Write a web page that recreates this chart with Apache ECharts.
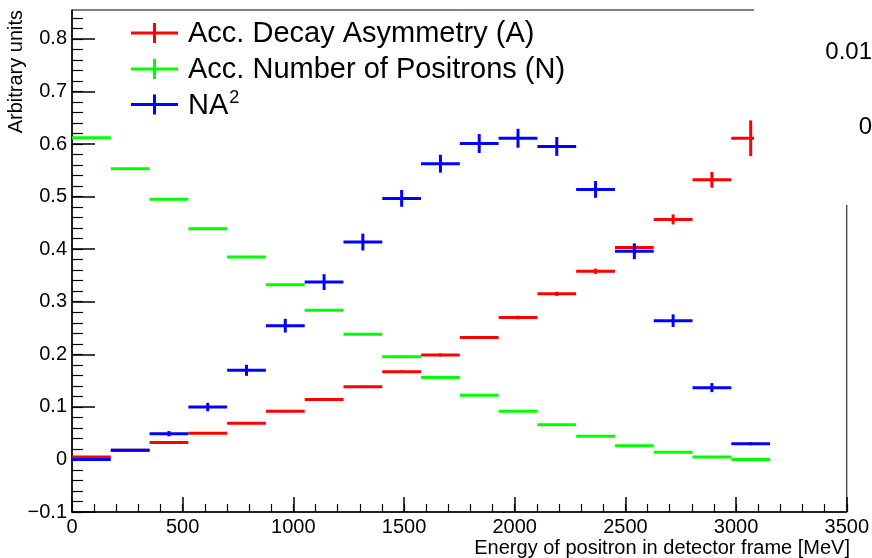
<!DOCTYPE html>
<html>
<head>
<meta charset="utf-8">
<script src="https://cdn.jsdelivr.net/npm/echarts@6/dist/echarts.min.js"></script>
<style>
  html, body { margin: 0; padding: 0; background: #fff; }
  #chart { width: 872px; height: 558px; }
</style>
</head>
<body>
<div id="chart"></div>
<script>
// bin centres (MeV) and bin width
const binCenters = [87.6, 262.8, 438, 613.2, 788.4, 963.6, 1138.8, 1314, 1489.2,
    1664.4, 1839.6, 2014.8, 2190, 2365.2, 2540.4, 2715.6, 2890.8, 3066];
const binWidth = 175.2;

// accumulated decay asymmetry (A)
const asym = [0.0046, 0.0173, 0.032, 0.050, 0.069, 0.0915, 0.114, 0.1385, 0.167,
    0.1986, 0.232, 0.270, 0.315, 0.358, 0.403, 0.4566, 0.532, 0.611];
const asymErr = [0.001, 0.001, 0.001, 0.0012, 0.0015, 0.0015, 0.002, 0.002, 0.0025,
    0.003, 0.003, 0.0035, 0.004, 0.005, 0.006, 0.0095, 0.015, 0.034];

// accumulated number of positrons (N)
const num = [0.612, 0.553, 0.495, 0.439, 0.385, 0.3325, 0.2836, 0.238, 0.1955,
    0.156, 0.122, 0.0915, 0.066, 0.044, 0.026, 0.0135, 0.0046, 0.0];
const numErr = [0.0005, 0.0005, 0.0005, 0.0005, 0.0005, 0.0005, 0.0005, 0.0005, 0.0005,
    0.0005, 0.0005, 0.0005, 0.0005, 0.0005, 0.0005, 0.0005, 0.0005, 0.0005];

// figure of merit N*A^2
const na2 = [0.0, 0.0173, 0.049, 0.0997, 0.1695, 0.2545, 0.3374, 0.4135, 0.4966,
    0.5626, 0.601, 0.611, 0.5955, 0.5137, 0.396, 0.264, 0.1366, 0.030];
const na2Err = [0.001, 0.002, 0.005, 0.008, 0.0105, 0.013, 0.015, 0.016, 0.016,
    0.017, 0.018, 0.018, 0.018, 0.016, 0.015, 0.012, 0.0086, 0.003];

const xMajor = [0, 500, 1000, 1500, 2000, 2500, 3000, 3500];
const yMajor = [-0.1, 0, 0.1, 0.2, 0.3, 0.4, 0.5, 0.6, 0.7, 0.8];
const yMinor = [];
for (let i = 0; i <= 47; i++) yMinor.push(+(-0.1 + i * 0.02).toFixed(2));
const xMinor = [];
for (let i = 0; i <= 35; i++) xMinor.push(i * 100);

const FONT = "'Liberation Sans', Arial, Helvetica, sans-serif";

function toData(vals, errs) {
    return vals.map((v, i) => [binCenters[i], v, errs[i]]);
}

function errSeries(name, color, vals, errs, z) {
    return {
        name: name,
        type: 'custom',
        z: z,
        clip: false,
        data: toData(vals, errs),
        renderItem: function (params, api) {
            const x = api.value(0), y = api.value(1), e = api.value(2);
            const l = api.coord([x - binWidth / 2, y]);
            const r = api.coord([x + binWidth / 2, y]);
            const t = api.coord([x, y + e]);
            const b = api.coord([x, y - e]);
            return {
                type: 'group',
                children: [
                    { type: 'line', shape: { x1: l[0], y1: l[1], x2: r[0], y2: r[1] },
                      style: { stroke: color, lineWidth: 3 } },
                    { type: 'line', shape: { x1: t[0], y1: t[1], x2: b[0], y2: b[1] },
                      style: { stroke: color, lineWidth: 3 } }
                ]
            };
        }
    };
}

function legendRow(y, color, text) {
    return {
        type: 'group',
        z: 200,
        children: [
            { type: 'line', shape: { x1: 131, y1: y, x2: 178, y2: y },
              style: { stroke: color, lineWidth: 3 } },
            { type: 'line', shape: { x1: 154.5, y1: y - 10, x2: 154.5, y2: y + 10 },
              style: { stroke: color, lineWidth: 3 } },
            { type: 'text', x: 188, y: y + 1,
              style: { text: text, fill: '#000', font: '29px ' + FONT,
                       verticalAlign: 'middle', align: 'left',
                       rich: { sup: { fontSize: 18, fontFamily: FONT, verticalAlign: 'top', padding: [0, 0, 15, 1] } } } }
        ]
    };
}

const myChart = echarts.init(document.getElementById('chart'));
const option = {
    animation: false,
    backgroundColor: '#fff',
    grid: {
        left: 72, right: 22, top: 10, bottom: 46,
        show: true, borderColor: '#000', borderWidth: 1, backgroundColor: 'transparent'
    },
    xAxis: [{
        type: 'value', min: 0, max: 3500, interval: 500,
        axisLine: { show: true, onZero: false, lineStyle: { color: '#000', width: 1.5 } },
        axisTick: { show: true, inside: true, length: 15, lineStyle: { color: '#000', width: 1.5 }, customValues: xMajor },
        axisLabel: { color: '#000', fontSize: 20, fontFamily: FONT, margin: 5, customValues: xMajor,
                     formatter: v => String(v) },
        splitLine: { show: false }
    }, {
        type: 'value', min: 0, max: 3500, position: 'bottom', offset: 0,
        axisLine: { show: false, onZero: false },
        axisTick: { show: true, inside: true, length: 8, lineStyle: { color: '#000', width: 1.2 }, customValues: xMinor },
        axisLabel: { show: false },
        splitLine: { show: false }
    }],
    yAxis: [{
        type: 'value', min: -0.1, max: 0.855, interval: 0.1,
        axisLine: { show: true, onZero: false, lineStyle: { color: '#000', width: 1.5 } },
        axisTick: { show: true, inside: true, length: 23, lineStyle: { color: '#000', width: 1.5 }, customValues: yMajor },
        axisLabel: { color: '#000', fontSize: 20, fontFamily: FONT, margin: 5, customValues: yMajor,
                     formatter: v => (Math.abs(v) < 1e-9 ? '0' : (v < 0 ? '\u2212' + (-v).toFixed(1) : v.toFixed(1))) },
        splitLine: { show: false }
    }, {
        type: 'value', min: -0.1, max: 0.855, position: 'left', offset: 0,
        axisLine: { show: false, onZero: false },
        axisTick: { show: true, inside: true, length: 11, lineStyle: { color: '#000', width: 1.2 }, customValues: yMinor },
        axisLabel: { show: false },
        splitLine: { show: false }
    }],
    series: [
        errSeries('Acc. Number of Positrons (N)', '#00ff00', num, numErr, 3),
        errSeries('Acc. Decay Asymmetry (A)', '#ff0000', asym, asymErr, 4),
        errSeries('NA2', '#0000ff', na2, na2Err, 5)
    ],
    graphic: [
        // overlapping pad in the top-right corner
        { type: 'rect', z: 150, shape: { x: 754, y: 0, width: 118, height: 205 },
          style: { fill: '#fff' } },
        { type: 'text', z: 160, x: 872, y: 52,
          style: { text: '0.01', font: '24px ' + FONT, fill: '#000', align: 'right', verticalAlign: 'middle' } },
        { type: 'text', z: 160, x: 872, y: 127,
          style: { text: '0', font: '24px ' + FONT, fill: '#000', align: 'right', verticalAlign: 'middle' } },
        // axis titles
        { type: 'text', z: 160, x: 850, y: 548,
          style: { text: 'Energy of positron in detector frame [MeV]', font: '20px ' + FONT,
                   fill: '#000', align: 'right', verticalAlign: 'middle' } },
        { type: 'text', z: 160, x: 16, y: 10, rotation: Math.PI / 2,
          style: { text: 'Arbitrary units', font: '20px ' + FONT,
                   fill: '#000', align: 'right', verticalAlign: 'middle' } },
        // legend
        legendRow(33, '#ff0000', 'Acc. Decay Asymmetry (A)'),
        legendRow(69, '#00ff00', 'Acc. Number of Positrons (N)'),
        legendRow(104.5, '#0000ff', 'NA{sup|2}')
    ]
};
myChart.setOption(option);
</script>
</body>
</html>
